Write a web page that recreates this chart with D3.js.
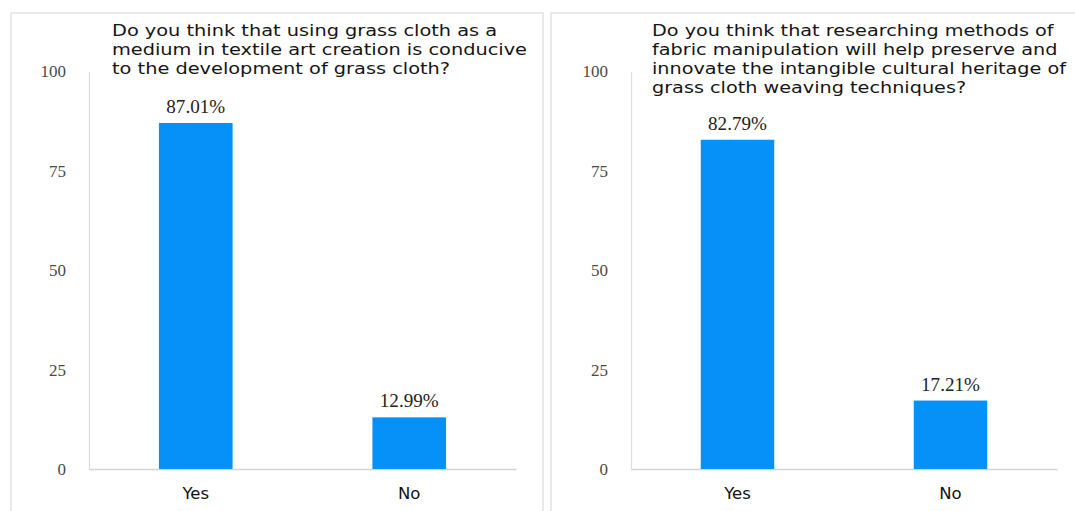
<!DOCTYPE html>
<html>
<head>
<meta charset="utf-8">
<script src="https://cdn.jsdelivr.net/npm/d3@7"></script>
<style>
  html, body { margin: 0; padding: 0; background: #ffffff; }
  svg { display: block; }
</style>
</head>
<body>
<svg id="chart" width="1075" height="511"></svg>
<script>
// Survey answers, one bar chart per question
const categories = ["Yes", "No"];
const valuesGrassCloth = [87.01, 12.99];
const valuesFabricMethods = [82.79, 17.21];
const yTicks = [0, 25, 50, 75, 100];
const titleGrassCloth = [
  "Do you think that using grass cloth as a",
  "medium in textile art creation is conducive",
  "to the development of grass cloth?"
];
const titleFabricMethods = [
  "Do you think that researching methods of",
  "fabric manipulation will help preserve and",
  "innovate the intangible cultural heritage of",
  "grass cloth weaving techniques?"
];

const BAR = "#0591f8";
const SERIF = "'Liberation Serif', 'Times New Roman', Times, serif";
const svg = d3.select("#chart");

function drawPanel(opt) {
  const g = svg.append("g");

  // panel frame
  g.append("rect")
    .attr("x", opt.frameX).attr("y", 13)
    .attr("width", opt.frameW).attr("height", 520)
    .attr("fill", "none").attr("stroke", "#e2e2e2").attr("stroke-width", 1.5);

  const x = d3.scaleBand()
    .domain(categories)
    .range([opt.x0, opt.x1])
    .paddingInner(0.655)
    .paddingOuter(0.3275);

  const y = d3.scaleLinear().domain([0, 100]).range([469, 71.3]);

  // y axis: labels only, with a thin vertical line
  const yAxis = d3.axisLeft(y).tickValues(yTicks).tickSize(0).tickPadding(23)
    .tickFormat(d3.format("d"));
  const ya = g.append("g").attr("transform", `translate(${opt.x0},0)`).call(yAxis);
  ya.select(".domain").attr("stroke", "#d9dde3").attr("stroke-width", 1.2);
  ya.selectAll("text")
    .attr("font-family", SERIF)
    .attr("font-size", 17).attr("fill", "#4a4a4a");

  // x axis baseline and category labels
  const xAxis = d3.axisBottom(x).tickSize(0).tickPadding(18);
  const xa = g.append("g").attr("transform", `translate(0,${y(0)})`).call(xAxis);
  xa.select(".domain").attr("stroke", "#cdd6e0").attr("stroke-width", 1.6);
  xa.selectAll("text")
    .attr("font-family", "'DejaVu Sans', Verdana, sans-serif")
    .attr("font-size", 16.5).attr("fill", "#111111");

  // bars
  g.selectAll("rect.bar")
    .data(opt.values)
    .join("rect")
    .attr("class", "bar")
    .attr("x", (d, i) => x(categories[i]))
    .attr("width", x.bandwidth())
    .attr("y", d => y(d))
    .attr("height", d => y(0) - y(d))
    .attr("fill", BAR);

  // value labels above bars
  const labels = g.selectAll("text.val")
    .data(opt.values)
    .join("text")
    .attr("class", "val")
    .attr("x", (d, i) => x(categories[i]) + x.bandwidth() / 2)
    .attr("y", d => y(d) - 10)
    .attr("text-anchor", "middle")
    .attr("font-family", SERIF)
    .attr("font-size", 18)
    .attr("fill", "#222222")
    .text(d => d.toFixed(2) + "%");
  labels.each(function () {
    const w = this.getComputedTextLength();
    d3.select(this).attr("textLength", w * 1.06).attr("lengthAdjust", "spacingAndGlyphs");
  });

  // wrapped title
  const tl = g.selectAll("text.title")
    .data(opt.title)
    .join("text")
    .attr("class", "title")
    .attr("x", opt.titleX)
    .attr("y", (d, i) => 36 + i * 19)
    .attr("font-family", "'DejaVu Sans', Verdana, sans-serif")
    .attr("font-size", 16)
    .attr("fill", "#151515")
    .text(d => d);
  let maxW = 0;
  tl.each(function () { maxW = Math.max(maxW, this.getComputedTextLength()); });
  const f = opt.titleWidth / maxW;
  tl.each(function () {
    const w = this.getComputedTextLength();
    d3.select(this).attr("textLength", w * f).attr("lengthAdjust", "spacingAndGlyphs");
  });
}

drawPanel({
  frameX: 11, frameW: 532,
  x0: 89, x1: 516,
  values: valuesGrassCloth,
  title: titleGrassCloth,
  titleX: 112, titleWidth: 415
});

drawPanel({
  frameX: 551, frameW: 540,
  x0: 631, x1: 1057,
  values: valuesFabricMethods,
  title: titleFabricMethods,
  titleX: 652, titleWidth: 414
});
</script>
</body>
</html>
